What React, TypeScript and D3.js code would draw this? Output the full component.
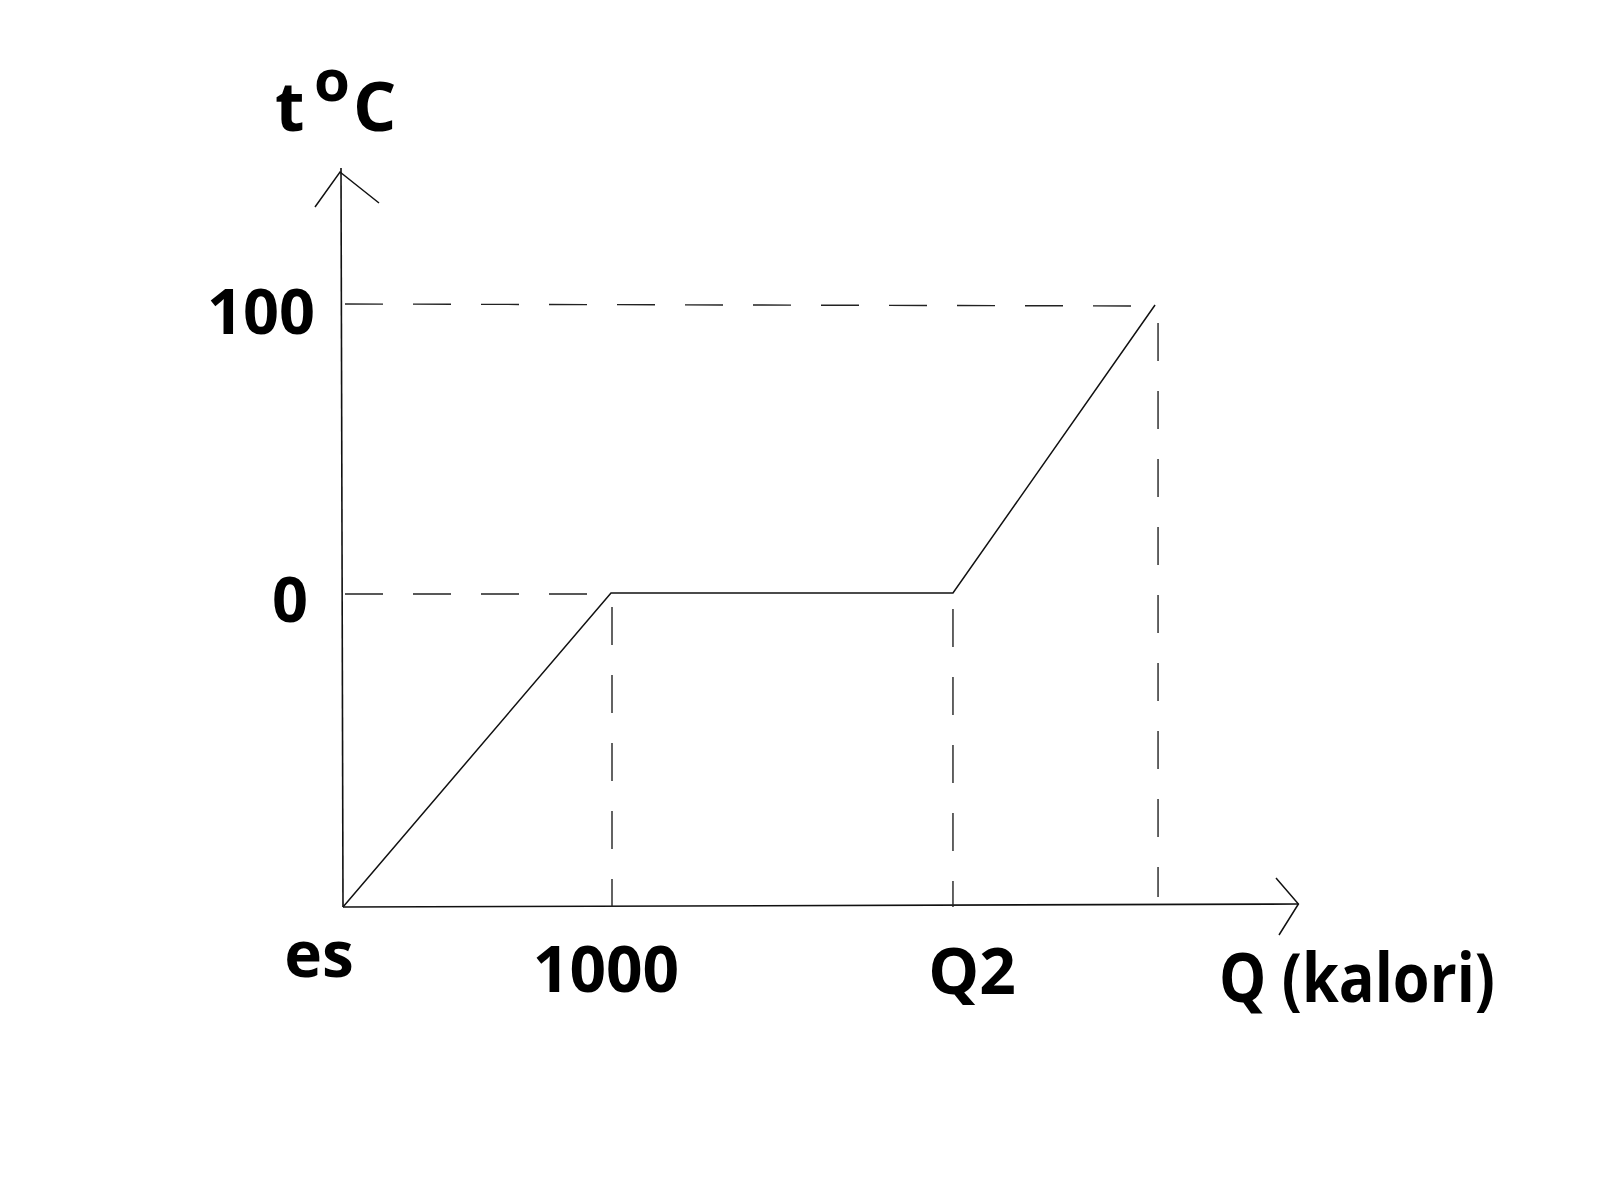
import * as d3 from 'd3';
import React, { useEffect, useRef } from 'react';

// heating curve: ice -> melting -> water up to 100 C
const heatQ = [0, 1000, 2276, 3030];
const tempC = [-109, 0, 0, 100];
const xTickLabels = ['es', '1000', 'Q2'];
const xTickValues = [0, 1000, 2276];
const yTickValues = [0, 100];
const yTickLabels = ['0', '100'];
const xAxisTitle = 'Q (kalori)';

const W = 1600;
const H = 1179;

const App: React.FC = () => {
  const ref = useRef<SVGSVGElement | null>(null);

  useEffect(() => {
    const svg = d3.select(ref.current);
    svg.selectAll('*').remove();

    const font = '"Open Sans", sans-serif';

    const x = d3.scaleLinear().domain([0, 1000]).range([343, 611]);
    const y = d3.scaleLinear().domain([-109, 100]).range([907, 305]);

    const x0 = x(0);
    const y0 = y(-109);
    const xEnd = x(3565);
    const yTop = 168;

    // axes
    svg.append('line')
      .attr('x1', x0).attr('y1', y0).attr('x2', x0 - 2).attr('y2', yTop)
      .attr('stroke', '#111').attr('stroke-width', 1.6);
    svg.append('line')
      .attr('x1', x0).attr('y1', y0).attr('x2', xEnd).attr('y2', y0 - 3)
      .attr('stroke', '#111').attr('stroke-width', 1.6);

    // arrow heads (open)
    svg.append('path')
      .attr('d', `M315,207 L${x0 - 3},${yTop + 4} L379,203`)
      .attr('fill', 'none').attr('stroke', '#111').attr('stroke-width', 1.5);
    svg.append('path')
      .attr('d', `M1276,878 L${xEnd},${y0 - 3} L1279,935`)
      .attr('fill', 'none').attr('stroke', '#111').attr('stroke-width', 1.5);

    const dash = (x1: number, y1: number, x2: number, y2: number) =>
      svg.append('line')
        .attr('x1', x1).attr('y1', y1).attr('x2', x2).attr('y2', y2)
        .attr('stroke', '#222').attr('stroke-width', 1.4)
        .attr('stroke-dasharray', '38 30');

    // guide lines
    dash(x0 + 2, y(100) - 1, x(heatQ[3]), y(100) + 1);
    dash(x0 + 2, y(0) + 1, x(heatQ[1]) - 4, y(0) + 1);
    dash(x(heatQ[1]) + 1, y(0) + 14, x(heatQ[1]) + 1, y0);
    dash(x(heatQ[2]), y(0) + 16, x(heatQ[2]), y0);
    dash(x(heatQ[3]) + 3, y(100) + 18, x(heatQ[3]) + 3, y0 - 10);

    // curve
    const pts = heatQ.map((q, i) => [x(q), y(tempC[i])] as [number, number]);
    const line = d3.line();
    svg.append('path')
      .attr('d', line(pts) as string)
      .attr('fill', 'none')
      .attr('stroke', '#111')
      .attr('stroke-width', 1.5);

    // y tick labels
    const yLab = svg.append('g')
      .attr('font-family', font).attr('font-weight', 700).attr('font-size', 63)
      .attr('fill', '#000');
    yTickValues.forEach((v, i) => {
      yLab.append('text')
        .attr('x', v === 100 ? 315 : 308)
        .attr('y', y(v) + 29)
        .attr('text-anchor', 'end')
        .text(yTickLabels[i]);
    });

    // x tick labels
    const xLab = svg.append('g')
      .attr('font-family', font).attr('font-weight', 700).attr('font-size', 64)
      .attr('fill', '#000');
    const xOff = [-24, -5, 19];
    const xBase = [977, 992, 994];
    xTickValues.forEach((v, i) => {
      xLab.append('text')
        .attr('x', x(v) + xOff[i])
        .attr('y', xBase[i])
        .attr('text-anchor', 'middle')
        .text(xTickLabels[i]);
    });

    xLab.append('text')
      .attr('x', 1357)
      .attr('y', 1002)
      .attr('text-anchor', 'middle')
      .attr('font-size', 68)
      .attr('textLength', 276)
      .attr('lengthAdjust', 'spacingAndGlyphs')
      .text(xAxisTitle);

    // y axis title: t oC
    const yt = svg.append('g')
      .attr('font-family', font).attr('font-weight', 700).attr('fill', '#000');
    yt.append('text').attr('x', 275).attr('y', 131).attr('font-size', 68).text('t');
    yt.append('text').attr('x', 314).attr('y', 101).attr('font-size', 58).text('o');
    yt.append('text').attr('x', 353).attr('y', 131).attr('font-size', 68).text('C');
  }, []);

  return (
    <svg
      ref={ref}
      width={W}
      height={H}
      style={{ position: 'absolute', left: 0, top: 0, background: '#fff' }}
    />
  );
};

export default App;
